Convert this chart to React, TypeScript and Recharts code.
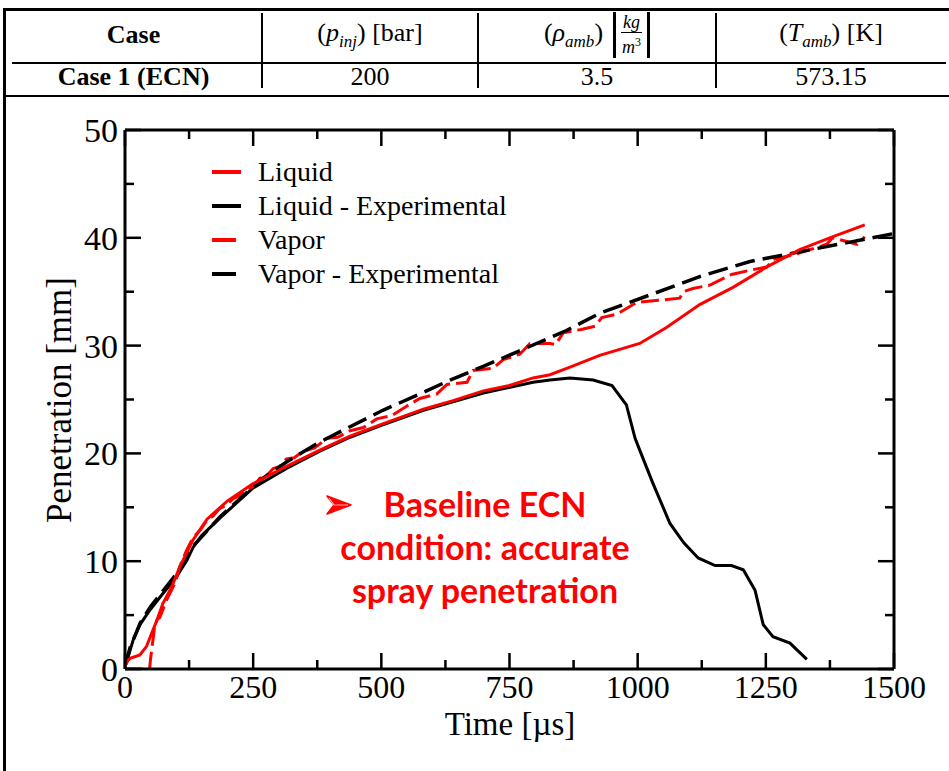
import React from 'react';
import { LineChart, Line, XAxis, YAxis } from 'recharts';

// ---- axis ticks ----
const xTicks = [0, 125, 250, 375, 500, 625, 750, 875, 1000, 1125, 1250, 1375, 1500];
const yTicks = [0, 5, 10, 15, 20, 25, 30, 35, 40, 45, 50];

// ---- series: Liquid (simulation) ----
const liquidSimT = [0, 6, 10, 29, 42, 52, 62, 74, 91, 107, 133, 160, 200, 250, 315, 380, 439, 500, 582, 640, 699, 750, 796, 829, 868, 926, 1004, 1057, 1121, 1186, 1252, 1316, 1381, 1443];
const liquidSimV = [0.3, 0.8, 1.0, 1.3, 2.1, 3.3, 4.5, 6.1, 7.6, 9.5, 12.0, 13.9, 15.6, 17.2, 18.8, 20.3, 21.6, 22.7, 24.1, 24.9, 25.8, 26.3, 27.0, 27.3, 28.0, 29.1, 30.2, 31.7, 33.8, 35.4, 37.3, 38.9, 40.1, 41.2];

// ---- series: Liquid - Experimental ----
const liquidExpT = [0, 6, 16, 29, 49, 74, 101, 121, 133, 150, 185, 250, 315, 380, 439, 500, 582, 699, 796, 829, 868, 913, 950, 978, 995, 1004, 1030, 1063, 1090, 1118, 1151, 1183, 1206, 1229, 1245, 1264, 1297, 1330];
const liquidExpV = [0.2, 1.1, 2.7, 4.1, 5.5, 7.0, 8.6, 10.1, 11.3, 12.4, 14.0, 16.8, 18.6, 20.2, 21.5, 22.6, 24.0, 25.6, 26.6, 26.8, 27.0, 26.8, 26.3, 24.5, 21.4, 20.3, 17.2, 13.5, 11.7, 10.3, 9.6, 9.6, 9.2, 7.3, 4.1, 3.0, 2.4, 0.9];

// ---- series: Vapor (simulation) ----
const vaporSimT = [0, 48, 50, 58, 63, 68, 81, 98, 107, 120, 133, 147, 160, 172, 185, 198, 211, 225, 238, 250, 263, 276, 289, 302, 315, 330, 348, 370, 394, 415, 439, 465, 491, 520, 550, 575, 608, 628, 667, 679, 718, 738, 770, 790, 829, 840, 855, 890, 917, 930, 959, 998, 1040, 1082, 1089, 1108, 1140, 1183, 1220, 1252, 1265, 1310, 1369, 1380, 1428, 1443];
const vaporSimV = [0, 0, 1.0, 4.0, 4.6, 4.8, 6.4, 8.0, 9.5, 11.0, 12.2, 12.9, 13.8, 14.2, 14.9, 15.2, 15.8, 16.1, 16.7, 16.9, 17.7, 17.9, 18.6, 18.8, 19.5, 19.6, 20.2, 20.5, 21.4, 21.5, 22.1, 22.4, 23.2, 23.5, 24.4, 25.1, 25.5, 26.4, 26.6, 27.7, 27.9, 28.7, 29.2, 30.2, 30.2, 30.1, 31.2, 31.5, 31.8, 32.6, 32.9, 34.0, 34.2, 34.4, 35.0, 35.3, 35.6, 36.6, 37.0, 37.3, 38.0, 38.5, 39.4, 40.0, 39.4, 40.1];

// ---- series: Vapor - Experimental ----
const vaporExpT = [0, 10, 30, 50, 75, 100, 133, 185, 250, 263, 315, 374, 440, 503, 570, 634, 700, 764, 861, 926, 1024, 1121, 1219, 1316, 1414, 1500];
const vaporExpV = [0.3, 2.0, 4.3, 5.8, 7.3, 8.8, 11.4, 14.1, 16.9, 17.5, 19.2, 20.9, 22.5, 24.0, 25.4, 26.8, 28.1, 29.4, 31.4, 33.0, 34.7, 36.4, 37.8, 38.7, 39.6, 40.4];

const legendNames = ['Liquid', 'Liquid - Experimental', 'Vapor', 'Vapor - Experimental'];
const annotationLines = ['Baseline ECN', 'condition: accurate', 'spray penetration'];

const zip = (t: number[], v: number[]) => t.map((x, i) => ({ t: x, v: v[i] }));
const liquidSim = zip(liquidSimT, liquidSimV);
const liquidExp = zip(liquidExpT, liquidExpV);
const vaporSim = zip(vaporSimT, vaporSimV);
const vaporExp = zip(vaporExpT, vaporExpV);

const SERIF = '"Liberation Serif", "DejaVu Serif", serif';
const RED = '#ff0000';
const AX = 2; // axis box thickness used by Recharts

const BottomTick = (p: any) => {
  const { x, y, payload } = p;
  const v = payload.value;
  const major = v % 250 === 0;
  return (
    <g>
      <line x1={x} y1={y} x2={x} y2={y - (major ? 16 : 9)} stroke="#000" strokeWidth={2.5} />
      {major && (
        <text x={x} y={y + 29} textAnchor="middle" fontFamily={SERIF} fontSize={32} fill="#000">
          {v}
        </text>
      )}
    </g>
  );
};
const TopTick = (p: any) => {
  const { x, y, payload } = p;
  const major = payload.value % 250 === 0;
  return <line x1={x} y1={y} x2={x} y2={y + (major ? 16 : 9)} stroke="#000" strokeWidth={2.5} />;
};
const LeftTick = (p: any) => {
  const { x, y, payload } = p;
  const v = payload.value;
  const major = v % 10 === 0;
  return (
    <g>
      <line x1={x} y1={y} x2={x + (major ? 16 : 9)} y2={y} stroke="#000" strokeWidth={2.5} />
      {major && (
        <text x={x - 7} y={y + 12} textAnchor="end" fontFamily={SERIF} fontSize={34} fill="#000">
          {v}
        </text>
      )}
    </g>
  );
};
const RightTick = (p: any) => {
  const { x, y, payload } = p;
  const major = payload.value % 10 === 0;
  return <line x1={x} y1={y} x2={x - (major ? 16 : 9)} y2={y} stroke="#000" strokeWidth={2.5} />;
};

const axisLine = { stroke: '#000', strokeWidth: 3 };

const cellStyle = (left: number, right: number, top: number, h: number): React.CSSProperties => ({
  position: 'absolute',
  left,
  width: right - left,
  top,
  height: h,
  display: 'flex',
  alignItems: 'center',
  justifyContent: 'center',
  fontFamily: SERIF,
  fontSize: 26,
  color: '#000',
  whiteSpace: 'nowrap',
});

const cols = [5, 262, 478, 716, 946];

export default function App() {
  return (
    <div style={{ position: 'absolute', left: 0, top: 0, width: 949, height: 771, background: '#fff', overflow: 'hidden' }}>
      {/* chart */}
      <div style={{ position: 'absolute', left: 0, top: 0 }}>
        <LineChart width={949} height={771} margin={{ top: 130 - AX, right: 55 - AX, bottom: 102 - AX, left: 125 - AX }}>
          <XAxis
            xAxisId="b"
            dataKey="t"
            type="number"
            domain={[0, 1500]}
            ticks={xTicks}
            interval={0}
            height={AX}
            tickSize={0}
            tickMargin={0}
            tickLine={false}
            axisLine={axisLine}
            tick={BottomTick}
            allowDataOverflow
          />
          <XAxis
            xAxisId="top"
            orientation="top"
            dataKey="t"
            type="number"
            domain={[0, 1500]}
            ticks={xTicks}
            interval={0}
            height={AX}
            tickSize={0}
            tickMargin={0}
            tickLine={false}
            axisLine={axisLine}
            tick={TopTick}
            allowDataOverflow
          />
          <YAxis
            yAxisId="l"
            type="number"
            domain={[0, 50]}
            ticks={yTicks}
            interval={0}
            width={AX}
            tickSize={0}
            tickMargin={0}
            tickLine={false}
            axisLine={axisLine}
            tick={LeftTick}
            allowDataOverflow
          />
          <YAxis
            yAxisId="r"
            orientation="right"
            type="number"
            domain={[0, 50]}
            ticks={yTicks}
            interval={0}
            width={AX}
            tickSize={0}
            tickMargin={0}
            tickLine={false}
            axisLine={axisLine}
            tick={RightTick}
            allowDataOverflow
          />
          <Line xAxisId="b" yAxisId="l" data={liquidExp} dataKey="v" name="Liquid - Experimental" type="linear" stroke="#000" strokeWidth={3} dot={false} isAnimationActive={false} />
          <Line xAxisId="b" yAxisId="l" data={vaporSim} dataKey="v" name="Vapor" type="linear" stroke={RED} strokeWidth={3} strokeDasharray="18 6" dot={false} isAnimationActive={false} />
          <Line xAxisId="b" yAxisId="l" data={vaporExp} dataKey="v" name="Vapor - Experimental" type="linear" stroke="#000" strokeWidth={3.5} strokeDasharray="20 8" dot={false} isAnimationActive={false} />
          <Line xAxisId="b" yAxisId="l" data={liquidSim} dataKey="v" name="Liquid" type="linear" stroke={RED} strokeWidth={3} dot={false} isAnimationActive={false} />
        </LineChart>
      </div>

      {/* axis titles */}
      <div style={{ position: 'absolute', left: 0, width: 1020, top: 708, height: 33, textAlign: 'center', fontFamily: SERIF, fontSize: 33, lineHeight: '33px' }}>
        Time [µs]
      </div>
      <div
        style={{
          position: 'absolute',
          left: 60,
          top: 400,
          transform: 'translate(-50%, -50%) rotate(-90deg)',
          fontFamily: SERIF,
          fontSize: 35,
          lineHeight: '40px',
          whiteSpace: 'nowrap',
        }}
      >
        Penetration [mm]
      </div>

      {/* legend */}
      {legendNames.map((n, i) => {
        const red = i % 2 === 0;
        const len = i < 2 ? 29 : 24;
        return (
          <div key={n} style={{ position: 'absolute', left: 212, top: 155 + i * 34, height: 34, display: 'flex', alignItems: 'center' }}>
            <svg width={46} height={34} style={{ display: 'block' }}>
              <line x1={0} y1={17} x2={len} y2={17} stroke={red ? RED : '#000'} strokeWidth={4} />
            </svg>
            <span style={{ fontFamily: SERIF, fontSize: 28, whiteSpace: 'nowrap' }}>{n}</span>
          </div>
        );
      })}

      {/* annotation */}
      <svg style={{ position: 'absolute', left: 326, top: 495 }} width={26} height={20}>
        <polygon points="1,1 25,10 1,19 8,10" fill={RED} stroke={RED} strokeWidth={1.5} strokeLinejoin="round" />
        <polyline points="3,3 8,10 22,10" fill="none" stroke="#ffb0b0" strokeWidth={1.2} />
      </svg>
      {annotationLines.map((s, i) => (
        <div
          key={s}
          style={{
            position: 'absolute',
            left: 285,
            width: 400,
            top: 484 + i * 43,
            textAlign: 'center',
            fontFamily: 'Lato, "Open Sans", sans-serif',
            fontWeight: 700,
            fontSize: 34,
            lineHeight: '40px',
            color: RED,
            whiteSpace: 'nowrap',
          }}
        >
          {s}
        </div>
      ))}

      {/* frame & table */}
      <div style={{ position: 'absolute', left: 3, top: 8, width: 3, height: 763, background: '#000' }} />
      <div style={{ position: 'absolute', left: 3, top: 8, width: 946, height: 3, background: '#000' }} />
      <div style={{ position: 'absolute', left: 12, top: 62, width: 934, height: 2, background: '#000' }} />
      <div style={{ position: 'absolute', left: 3, top: 95, width: 946, height: 2, background: '#000' }} />
      {cols.slice(1, 4).map((c) => (
        <div key={c} style={{ position: 'absolute', left: c - 1, top: 13, width: 2, height: 75, background: '#000' }} />
      ))}

      <div style={{ ...cellStyle(cols[0], cols[1], 13, 44), fontWeight: 700 }}>Case</div>
      <div style={cellStyle(cols[1], cols[2], 13, 44)}>
        <span>
          (<i>p</i>
          <sub style={{ fontSize: 17, fontStyle: 'italic' }}>inj</sub>) [bar]
        </span>
      </div>
      <div style={cellStyle(cols[2], cols[3], 13, 44)}>
        <span>
          (<i>ρ</i>
          <sub style={{ fontSize: 17, fontStyle: 'italic' }}>amb</sub>)
        </span>
        <span
          style={{
            display: 'inline-flex',
            flexDirection: 'column',
            alignItems: 'center',
            marginLeft: 10,
            padding: '0 5px',
            borderLeft: '3px solid #000',
            borderRight: '3px solid #000',
            height: 46,
            justifyContent: 'center',
            fontSize: 18,
            fontStyle: 'italic',
            lineHeight: '19px',
          }}
        >
          <span style={{ borderBottom: '1.5px solid #000', padding: '0 2px' }}>kg</span>
          <span>
            m<sup style={{ fontSize: 12, fontStyle: 'normal' }}>3</sup>
          </span>
        </span>
      </div>
      <div style={cellStyle(cols[3], cols[4], 13, 44)}>
        <span>
          (<i>T</i>
          <sub style={{ fontSize: 17, fontStyle: 'italic' }}>amb</sub>) [K]
        </span>
      </div>

      <div style={{ ...cellStyle(cols[0], cols[1], 62, 30), fontWeight: 700 }}>Case 1 (ECN)</div>
      <div style={cellStyle(cols[1], cols[2], 62, 30)}>200</div>
      <div style={cellStyle(cols[2], cols[3], 62, 30)}>3.5</div>
      <div style={cellStyle(cols[3], cols[4], 62, 30)}>573.15</div>
    </div>
  );
}
